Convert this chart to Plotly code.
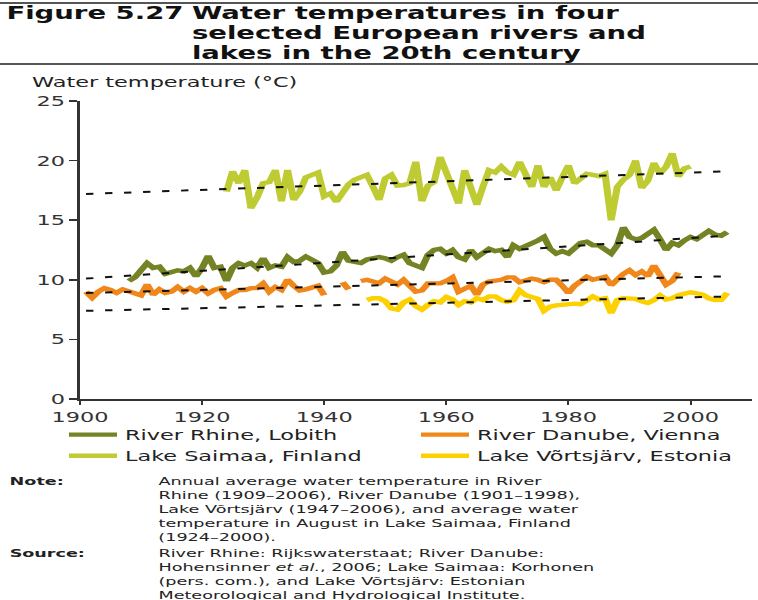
import plotly.graph_objects as go

# ---------------------------------------------------------------- data
rhine_years = list(range(1908, 2007))
rhine_temp = [
    9.9, 10.2, 10.8, 11.4, 11.0, 11.1, 10.5, 10.7, 10.8, 10.7,   # 1908-1917
    11.0, 10.3, 11.0, 12.0, 11.0, 11.1, 9.9, 11.0, 11.4, 11.2,   # 1918-1927
    11.4, 11.0, 11.8, 11.0, 11.2, 11.1, 11.9, 11.5, 11.6, 11.95,  # 1928-1937
    11.7, 11.4, 10.6, 10.7, 11.2, 12.35, 11.6, 11.5, 11.4, 11.7,  # 1938-1947
    11.8, 11.9, 11.8, 11.6, 11.9, 12.1, 11.4, 11.2, 11.0, 12.1,   # 1948-1957
    12.5, 12.6, 12.2, 12.5, 11.9, 11.7, 12.5, 11.9, 12.3, 12.6,   # 1958-1967
    12.4, 12.5, 11.9, 12.9, 12.6, 12.8, 13.0, 13.3, 13.6, 12.6,   # 1968-1977
    12.2, 12.4, 12.2, 12.6, 13.1, 13.2, 12.9, 12.9, 12.5, 12.2,   # 1978-1987
    12.9, 14.4, 13.6, 13.4, 13.5, 13.8, 14.2, 13.4, 12.5, 13.1,   # 1988-1997
    12.9, 13.3, 13.6, 13.4, 13.8, 14.1, 13.8, 13.7, 14.0,         # 1998-2006
]

danube_years = list(range(1901, 1999))
danube_temp = [
    9.0, 8.5, 9.0, 9.3, 9.15, 8.9, 9.2, 9.0, 8.9, 8.7,            # 1901-1910
    9.6, 8.75, 9.2, 8.9, 9.0, 9.4, 9.0, 9.3, 9.0, 9.3,            # 1911-1920
    8.85, 9.15, 9.3, 8.6, 8.9, 9.15, 9.15, 9.3, 9.3, 9.7,         # 1921-1930
    9.0, 9.4, 9.15, 10.0, 9.5, 9.1, 9.2, 9.4, 9.5, 8.7,           # 1931-1940
    None, None, 9.8, 9.2, None, 9.9, 10.0, 9.85, 9.7, 10.1,       # 1941-1950
    9.85, 9.6, 10.0, 9.5, 9.0, 9.1, 9.7, 9.7, 9.7, 9.9,           # 1951-1960
    10.2, 9.0, 9.3, 9.5, 8.75, 9.6, 9.85, 9.9, 10.0, 10.2,        # 1961-1970
    10.2, 9.8, 9.95, 10.1, 10.0, 9.8, 10.0, 10.0, 9.5, 8.9,       # 1971-1980
    9.5, 9.95, 10.25, 10.0, 10.1, 10.25, 9.55, 10.1, 10.5, 10.8,  # 1981-1990
    10.4, 10.7, 10.3, 11.2, 10.3, 9.6, 9.9, 10.6,                 # 1991-1998
]

saimaa_years = list(range(1924, 2001))
saimaa_temp = [
    17.4, 19.1, 18.1, 19.2, 16.0, 16.9, 18.1, 18.2, 19.2, 16.6,   # 1924-1933
    19.2, 16.7, 17.4, 18.6, 18.8, 19.0, 17.0, 17.25, 16.55, 17.2, # 1934-1943
    18.0, 18.4, 18.65, 18.8, 17.8, 16.7, 18.5, 18.8, 17.9, 17.95, # 1944-1953
    18.1, 19.9, 16.6, 17.9, 18.2, 20.3, 19.0, 17.6, 16.4, 19.2,   # 1954-1963
    17.8, 16.3, 17.8, 19.2, 19.0, 19.5, 19.0, 18.8, 19.9, 18.9,   # 1964-1973
    17.8, 19.6, 17.8, 18.6, 17.5, 18.6, 19.6, 18.1, 18.5, 18.9,   # 1974-1983
    18.8, 18.7, 18.9, 15.0, 17.8, 18.4, 18.8, 20.0, 17.7, 18.3,   # 1984-1993
    19.8, 18.9, 19.5, 20.6, 18.65, 19.35, 19.5,                   # 1994-2000
]

vortsjarv_years = list(range(1947, 2007))
vortsjarv_temp = [
    8.3, 8.45, 8.45, 8.2, 7.6, 7.5, 8.1, 8.35, 7.8, 7.5,          # 1947-1956
    7.9, 8.2, 8.1, 8.55, 8.35, 7.9, 8.2, 8.1, 8.45, 8.3,          # 1957-1966
    8.6, 8.6, 8.3, 8.15, 8.3, 9.1, 8.7, 8.5, 8.4, 7.4,            # 1967-1976
    7.75, 7.85, 7.9, 7.9, 8.0, 7.95, 8.25, 8.6, 8.35, 8.45,       # 1977-1986
    7.2, 8.3, 8.45, 8.45, 8.4, 8.2, 8.05, 8.3, 8.7, 8.35,         # 1987-1996
    8.45, 8.7, 8.87, 8.95, 8.87, 8.75, 8.45, 8.3, 8.32, 8.9,      # 1997-2006
]

# linear trends: start/end values
trend_years = [1901, 2006]
trend_saimaa = [17.2, 19.1]
trend_rhine = [10.1, 13.7]
trend_danube = [8.9, 10.3]
trend_vortsjarv = [7.4, 8.6]

x_ticks = [1900, 1920, 1940, 1960, 1980, 2000]
y_ticks = [0, 5, 10, 15, 20, 25]

series_names = ["River Rhine, Lobith", "River Danube, Vienna",
                "Lake Saimaa, Finland", "Lake Võrtsjärv, Estonia"]
series_colors = ["#768324", "#f0871a", "#bfcb32", "#fdd000"]
# left legend column: Rhine, Saimaa; right column: Danube, Võrtsjärv
series_legend = ["legend", "legend2", "legend", "legend2"]

title_lines = ["Water temperatures in four",
               "selected European rivers and",
               "lakes in the 20th century"]
note_lines = ["Annual average water temperature in River",
              "Rhine (1909–2006), River Danube (1901–1998),",
              "Lake Võrtsjärv (1947–2006), and average water",
              "temperature in August in Lake Saimaa, Finland",
              "(1924–2000)."]
source_lines = ["River Rhine: Rijkswaterstaat; River Danube:",
                "Hohensinner <i>et al.</i>, 2006; Lake Saimaa: Korhonen",
                "(pers. com.), and Lake Võrtsjärv: Estonian",
                "Meteorological and Hydrological Institute."]

# ---------------------------------------------------------------- layout geometry
PAGE_W = 758            # displayed width
W0, H = 474, 600        # figure laid out at W0 and widened to PAGE_W
SX = PAGE_W / W0
ML, MR, MT, MB = 50, 4, 101, 201
PW, PH = W0 - ML - MR, H - MT - MB
FONT = "DejaVu Sans"
TXT = "#222222"
TITLE_SIZE = 17.2
TITLE_STEP = 20.2


def px(xo):
    """page x (px) -> paper x"""
    return (xo / SX - ML) / PW


def py(yo):
    """page y (px) -> paper y"""
    return (H - MB - yo) / PH


fig = go.Figure()

data = [(rhine_years, rhine_temp), (danube_years, danube_temp),
        (saimaa_years, saimaa_temp), (vortsjarv_years, vortsjarv_temp)]
for (yrs, vals), name, col, leg in zip(data, series_names, series_colors,
                                       series_legend):
    fig.add_trace(go.Scatter(x=yrs, y=vals, mode="lines", name=name,
                             line=dict(color=col, width=4.4),
                             connectgaps=False, legend=leg))

for tr in (trend_saimaa, trend_rhine, trend_danube, trend_vortsjarv):
    fig.add_trace(go.Scatter(x=trend_years, y=tr, mode="lines",
                             showlegend=False,
                             line=dict(color="#111111", width=2,
                                       dash="4.6px,7.3px")))

annotations = []
# heading
annotations.append(dict(text="<b>Figure 5.27</b>", x=px(5), y=py(13),
                        xanchor="left", yanchor="middle",
                        font=dict(size=TITLE_SIZE, color="#111111", family=FONT)))
for i, line in enumerate(title_lines):
    annotations.append(dict(text=f"<b>{line}</b>", x=px(190),
                            y=py(13 + TITLE_STEP * i),
                            xanchor="left", yanchor="middle",
                            font=dict(size=TITLE_SIZE, color="#111111",
                                      family=FONT)))
# y-axis title
annotations.append(dict(text="Water temperature (°C)", x=px(30), y=py(82),
                        xanchor="left", yanchor="middle",
                        font=dict(size=14, color=TXT, family=FONT)))
# note / source
annotations.append(dict(text="<b>Note:</b>", x=px(8), y=py(481),
                        xanchor="left", yanchor="middle",
                        font=dict(size=11, color=TXT, family=FONT)))
for i, line in enumerate(note_lines):
    annotations.append(dict(text=line, x=px(156), y=py(481 + 14 * i),
                            xanchor="left", yanchor="middle",
                            font=dict(size=11, color=TXT, family=FONT)))
annotations.append(dict(text="<b>Source:</b>", x=px(8), y=py(553),
                        xanchor="left", yanchor="middle",
                        font=dict(size=11, color=TXT, family=FONT)))
for i, line in enumerate(source_lines):
    annotations.append(dict(text=line, x=px(156), y=py(553 + 14 * i),
                            xanchor="left", yanchor="middle",
                            font=dict(size=11, color=TXT, family=FONT)))
for a in annotations:
    a.update(xref="paper", yref="paper", showarrow=False, borderpad=0)

rules = []
for yo in (3, 64):
    rules.append(dict(type="line", xref="paper", yref="paper",
                      x0=px(0), x1=px(PAGE_W), y0=py(yo), y1=py(yo),
                      line=dict(color="#555555", width=2)))

legend_style = dict(orientation="v", xanchor="left", yanchor="top",
                    font=dict(size=14, color=TXT, family=FONT),
                    bgcolor="rgba(0,0,0,0)", borderwidth=0,
                    traceorder="normal")

fig.update_layout(
    width=W0, height=H,
    margin=dict(l=ML, r=MR, t=MT, b=MB, pad=0),
    paper_bgcolor="white", plot_bgcolor="white",
    font=dict(family=FONT, size=14, color=TXT),
    showlegend=True,
    legend=dict(x=px(61), y=py(419), **legend_style),
    legend2=dict(x=px(413), y=py(419), **legend_style),
    xaxis=dict(range=[1900, 2010], tickvals=x_ticks, ticks="outside",
               ticklen=4, tickwidth=1.25, tickcolor="#333333",
               showline=True, linecolor="#333333", linewidth=2,
               showgrid=False, zeroline=False,
               tickfont=dict(size=14, color="#333333", family=FONT)),
    yaxis=dict(range=[0, 25], tickvals=y_ticks, ticks="outside",
               ticklen=5, tickwidth=1.5, tickcolor="#333333",
               showline=True, linecolor="#333333", linewidth=1.6,
               showgrid=False, zeroline=False,
               tickfont=dict(size=14, color="#333333", family=FONT)),
    annotations=annotations,
    shapes=rules,
)

widen = (
    "var gd = document.getElementById('{plot_id}');"
    "document.body.style.margin = '0';"
    "gd.style.transformOrigin = '0 0';"
    "gd.style.transform = 'scaleX(" + repr(SX) + ")';"
)

fig.write_html("out.html", config=dict(displayModeBar=False, staticPlot=True),
               post_script=widen)
